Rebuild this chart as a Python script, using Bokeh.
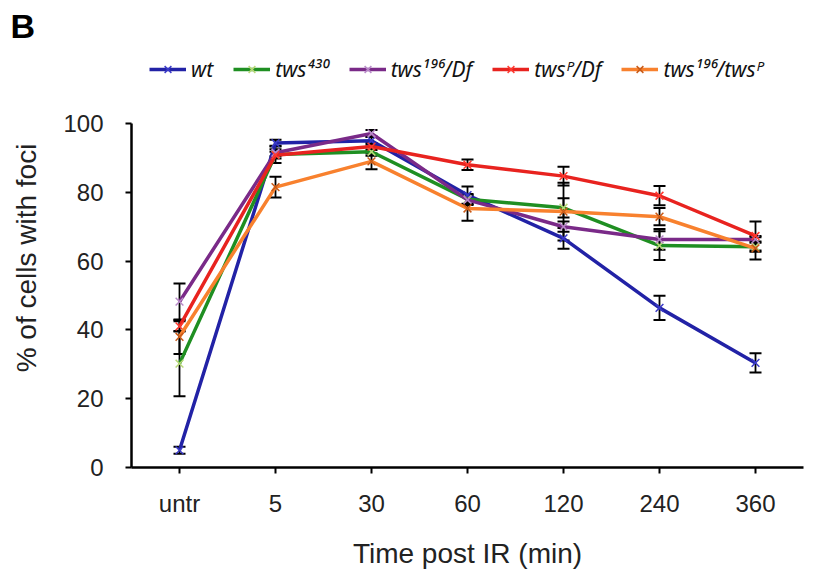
from bokeh.plotting import figure
from bokeh.models import (FactorRange, ColumnDataSource, Whisker, TeeHead, Legend,
                          LegendItem, FixedTicker)
from bokeh.embed import file_html
from bokeh.resources import INLINE

categories = ["untr", "5", "30", "60", "120", "240", "360"]

series_names = ["wt", "tws⁴³⁰", "tws¹⁹⁶/Df", "twsᴾ/Df", "tws¹⁹⁶/twsᴾ"]

wt_vals = [5, 94.3, 95.0, 79.2, 66.6, 46.4, 30.4]
wt_err = [1.0, 1.0, 1.2, 2.5, 3.0, 3.5, 2.8]

tws430_vals = [30.2, 91.0, 91.8, 78.0, 75.5, 64.5, 64.2]
tws430_err = [9.5, 2.5, 1.2, 1.5, 2.8, 4.2, 1.5]

tws196df_vals = [48.2, 91.5, 97.1, 77.8, 70.0, 66.3, 66.3]
tws196df_err = [5.3, 1.0, 1.0, 1.5, 1.5, 3.0, 1.0]

twspdf_vals = [41.0, 90.8, 93.3, 88.0, 84.7, 79.0, 67.3]
twspdf_err = [1.5, 1.0, 1.0, 1.5, 2.7, 2.8, 4.2]

tws196p_vals = [38.0, 81.5, 89.0, 75.3, 74.4, 72.9, 63.7]
tws196p_err = [5.0, 3.0, 2.3, 3.6, 8.4, 2.5, 3.2]

y_ticks = [0, 20, 40, 60, 80, 100]

all_vals = [wt_vals, tws430_vals, tws196df_vals, twspdf_vals, tws196p_vals]
all_errs = [wt_err, tws430_err, tws196df_err, twspdf_err, tws196p_err]
line_colors = ["#2222a6", "#1f8f22", "#7a2a88", "#e8231f", "#f8812e"]
marker_colors = ["#3a3ac8", "#b8d878", "#b88ac8", "#ff3a30", "#c85a18"]

FONT = "Liberation Sans"

# frame extends above the 100 line to hold the legend; axis drawn only 0..100
FRAME_H = 419
PX_PER_UNIT = 3.44

p = figure(x_range=FactorRange(*categories), y_range=(0, FRAME_H / PX_PER_UNIT),
           frame_width=672, frame_height=FRAME_H,
           min_border_left=131, min_border_right=16,
           min_border_top=46, min_border_bottom=100,
           output_backend="svg", toolbar_location=None,
           background_fill_color="white", border_fill_color="white")
p.x_range.range_padding = 0
p.outline_line_color = None
p.grid.visible = False

items = []
for name, vals, errs, lc, mc in zip(series_names, all_vals, all_errs, line_colors, marker_colors):
    src = ColumnDataSource(dict(
        x=categories, y=vals,
        upper=[v + e for v, e in zip(vals, errs)],
        lower=[v - e for v, e in zip(vals, errs)],
    ))
    r_line = p.line("x", "y", source=src, line_color=lc, line_width=3.5)
    w = Whisker(base="x", upper="upper", lower="lower", source=src,
                dimension="height", line_color="black", line_width=1.8,
                upper_head=TeeHead(size=12, line_color="black", line_width=2),
                lower_head=TeeHead(size=12, line_color="black", line_width=2))
    p.add_layout(w)
    r_mark = p.scatter("x", "y", source=src, marker="x", size=11,
                       line_color=mc, line_width=1.5)
    items.append(LegendItem(label=name, renderers=[r_line, r_mark]))

legend = Legend(items=items, orientation="horizontal", location=(18, 384),
                label_text_font="Noto Sans", label_text_font_size="21px",
                label_text_font_style="italic", label_text_color="#111111",
                glyph_width=37, glyph_height=24, label_standoff=5, spacing=20,
                padding=4, margin=0, border_line_color=None, background_fill_alpha=0)
p.add_layout(legend, "center")

p.title.text = "B"
p.title.text_font = FONT
p.title.text_font_size = "34px"
p.title.text_font_style = "bold"
p.title.text_color = "black"
p.title.align = "left"
p.title.offset = -121
p.title.standoff = 8

for ax in (p.xaxis[0], p.yaxis[0]):
    ax.axis_line_color = "black"
    ax.axis_line_width = 2.5
    ax.major_tick_line_color = "black"
    ax.major_tick_line_width = 2
    ax.major_tick_out = 6
    ax.major_tick_in = 0
    ax.minor_tick_line_color = None
    ax.major_label_text_font = FONT
    ax.major_label_text_font_size = "24px"
    ax.major_label_text_color = "#222222"
    ax.axis_label_text_font = FONT
    ax.axis_label_text_font_size = "28px"
    ax.axis_label_text_font_style = "normal"
    ax.axis_label_text_color = "#222222"

p.yaxis.ticker = FixedTicker(ticks=y_ticks)
p.yaxis.bounds = (0, 100)
p.yaxis.major_label_standoff = 22
p.yaxis.axis_label = "% of cells with foci"
p.yaxis.axis_label_standoff = 18

p.xaxis.major_label_standoff = 16
p.xaxis.axis_label = "Time post IR (min)"
p.xaxis.axis_label_standoff = 18

open("out.html", "w").write(file_html(p, INLINE))
